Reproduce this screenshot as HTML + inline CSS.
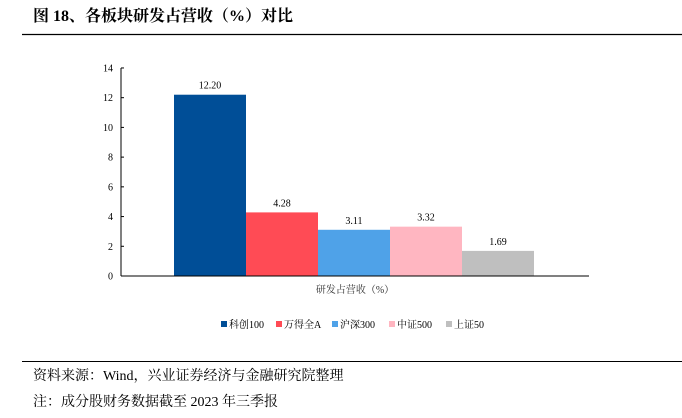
<!DOCTYPE html>
<html><head><meta charset="utf-8"><style>
body{margin:0;width:682px;height:413px;background:#fff;overflow:hidden;font-family:"Liberation Serif","Noto Serif CJK SC",serif;}
</style></head><body>
<svg width="682" height="413" xmlns="http://www.w3.org/2000/svg">
<text x="33" y="21" font-size="16" font-weight="bold" fill="#000">图 18、各板块研发占营收（%）对比</text>
<line x1="22" y1="34.5" x2="682" y2="34.5" stroke="#000" stroke-width="1.2"/>
<g id="plot"></g>
<text x="355" y="293" font-size="10" text-anchor="middle" fill="#333">研发占营收（%）</text>
<g id="legend"></g>
<line x1="22" y1="361.5" x2="682" y2="361.5" stroke="#000" stroke-width="1"/>
<text x="33" y="380" font-size="14" fill="#000">资料来源：Wind，兴业证券经济与金融研究院整理</text>
<text x="33" y="406" font-size="14" fill="#000">注：成分股财务数据截至 2023 年三季报</text>
</svg>
<script>
const categories=["科创100","万得全A","沪深300","中证500","上证50"];
const values=[12.20,4.28,3.11,3.32,1.69];
const labels=["12.20","4.28","3.11","3.32","1.69"];
const ticks=[0,2,4,6,8,10,12,14];
const colors=["#004e97","#ff4b55","#4fa2e8","#ffb6c1","#bfbfbf"];
const NS="http://www.w3.org/2000/svg";
const y0=276, k=14.86, x0=121, x1=589, barStart=174, barW=72;
const y=v=>y0-v*k;
const xb=i=>barStart+i*barW;
function mk(t,a,p){const e=document.createElementNS(NS,t);for(const n in a)e.setAttribute(n,a[n]);p.appendChild(e);return e;}
const plot=document.getElementById('plot');
values.forEach((v,i)=>{
 const r=mk('rect',{x:xb(i),y:y(v),width:barW,height:v*k,fill:colors[i]},plot);
 
 
 const t=mk('text',{x:xb(i)+barW/2,y:y(v)-6,'font-size':10,'text-anchor':'middle',fill:'#000'},plot);
 t.textContent=labels[i];
 
 
});
const ax=mk('line',{x1:x0,y1:y(ticks[ticks.length-1]),x2:x0,y2:y0,stroke:'#000','stroke-width':1},plot);


const bx=mk('line',{x1:x0,y1:y0,x2:x1,y2:y0,stroke:'#000','stroke-width':1},plot);


ticks.forEach(t=>{
 mk('line',{x1:x0,y1:y(t),x2:x0+3,y2:y(t),stroke:'#000'},plot);
 const l=mk('text',{x:x0-8,y:y(t)+3.5,'font-size':10,'text-anchor':'end',fill:'#000'},plot);
 l.textContent=t;
 
 
});
const lg=document.getElementById('legend');
const lx=[221,276,332,389,446];
categories.forEach((c,i)=>{
 const r=mk('rect',{x:lx[i],y:321,width:6,height:6,fill:colors[i]},lg);
 
 
 const t=mk('text',{x:lx[i]+8,y:328,'font-size':10,fill:'#000'},lg);
 t.textContent=c;
 
 
});
</script>
</body></html>
